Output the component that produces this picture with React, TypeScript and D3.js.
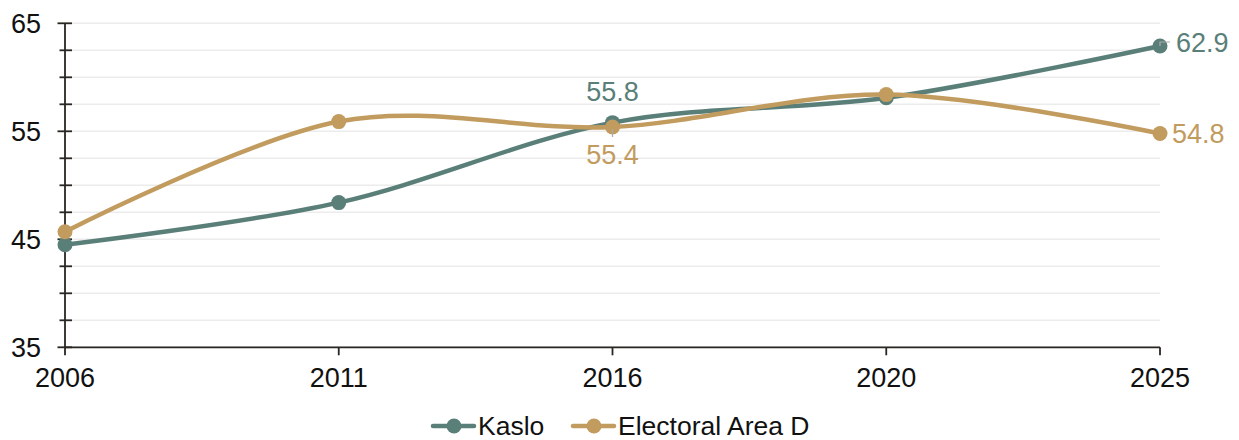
import React from "react";
import * as d3 from "d3";

const years = ["2006", "2011", "2016", "2020", "2025"];
const kaslo = [44.5, 48.4, 55.8, 58.1, 62.9];
const areaD = [45.7, 55.9, 55.4, 58.4, 54.8];
const majorTicks = [35, 45, 55, 65];
const minorTicks = d3.range(35, 65.01, 2.5);

const W = 1239;
const H = 440;
const KASLO = "#5a7f79";
const AREAD = "#c29b5f";
const FONT = "'Liberation Sans', Arial, sans-serif";

export default function App() {
  const x = d3.scalePoint<string>().domain(years).range([65, 1160]);
  const y = d3.scaleLinear().domain([35, 65]).range([347.3, 23.3]);
  const line = d3
    .line<number>()
    .x((_, i) => x(years[i]) as number)
    .y((d) => y(d))
    .curve(d3.curveCatmullRom.alpha(0));

  const series = [
    { name: "Kaslo", values: kaslo, color: KASLO },
    { name: "Electoral Area D", values: areaD, color: AREAD },
  ];

  return (
    <svg
      width={W}
      height={H}
      style={{ position: "absolute", left: 0, top: 0, background: "#fff" }}
      fontFamily={FONT}
    >
      {minorTicks.map((t) => (
        <line key={"g" + t} x1={65} x2={1160} y1={y(t)} y2={y(t)} stroke="#ececec" strokeWidth={1.5} />
      ))}
      {/* y axis */}
      <line x1={65} x2={65} y1={y(65)} y2={y(35)} stroke="#2a2622" strokeWidth={1.8} />
      {minorTicks.map((t) => (
        <line key={"t" + t} x1={majorTicks.includes(t) ? 57.5 : 59.5} x2={72} y1={y(t)} y2={y(t)} stroke="#2a2622" strokeWidth={1.8} />
      ))}
      {majorTicks.map((t) => (
        <text key={"l" + t} x={41} y={y(t)} dy="0.35em" textAnchor="end" fontSize={27} fill="#111">
          {t}
        </text>
      ))}
      {/* x axis */}
      <line x1={65} x2={1160} y1={y(35)} y2={y(35)} stroke="#2a2622" strokeWidth={1.8} />
      {years.map((yr) => (
        <g key={yr}>
          <line x1={x(yr)} x2={x(yr)} y1={y(35)} y2={y(35) + 8} stroke="#2a2622" strokeWidth={1.8} />
          <text x={x(yr)} y={378} dy="0.35em" textAnchor="middle" fontSize={27} fill="#111">
            {yr}
          </text>
        </g>
      ))}
      {/* series */}
      {series.map((s) => (
        <g key={s.name}>
          <path d={line(s.values) || ""} fill="none" stroke={s.color} strokeWidth={4.5} strokeLinecap="round" />
          {s.values.map((v, i) => (
            <circle key={i} cx={x(years[i])} cy={y(v)} r={7.5} fill={s.color} />
          ))}
        </g>
      ))}
      {/* leader lines */}
      <path
        d={`M${x("2025")},${y(kaslo[4])} L${x("2025")},${y(kaslo[4]) - 4} L${(x("2025") as number) + 10},${y(kaslo[4]) - 4}`}
        fill="none"
        stroke="#aaa"
        strokeWidth={1.2}
      />
      <line x1={x("2016")} x2={x("2016")} y1={y(areaD[2]) + 2} y2={y(areaD[2]) + 10} stroke="#aaa" strokeWidth={1.2} />
      {/* data labels */}
      <text x={x("2016")} y={92} dy="0.35em" textAnchor="middle" fontSize={27} fill={KASLO}>
        {kaslo[2].toFixed(1)}
      </text>
      <text x={x("2016")} y={155} dy="0.35em" textAnchor="middle" fontSize={27} fill={AREAD}>
        {areaD[2].toFixed(1)}
      </text>
      <text x={1176} y={43} dy="0.35em" textAnchor="start" fontSize={27} fill={KASLO}>
        {kaslo[4].toFixed(1)}
      </text>
      <text x={1172} y={134} dy="0.35em" textAnchor="start" fontSize={27} fill={AREAD}>
        {areaD[4].toFixed(1)}
      </text>
      {/* legend */}
      {[
        { s: series[0], x0: 433, tx: 478 },
        { s: series[1], x0: 573, tx: 618 },
      ].map(({ s, x0, tx }) => (
        <g key={"lg" + s.name}>
          <line x1={x0} x2={x0 + 41} y1={426} y2={426} stroke={s.color} strokeWidth={4.5} strokeLinecap="round" />
          <circle cx={x0 + 21} cy={426} r={7.5} fill={s.color} />
          <text x={tx} y={434.5} fontSize={26.5} fill="#111">
            {s.name}
          </text>
        </g>
      ))}
    </svg>
  );
}
